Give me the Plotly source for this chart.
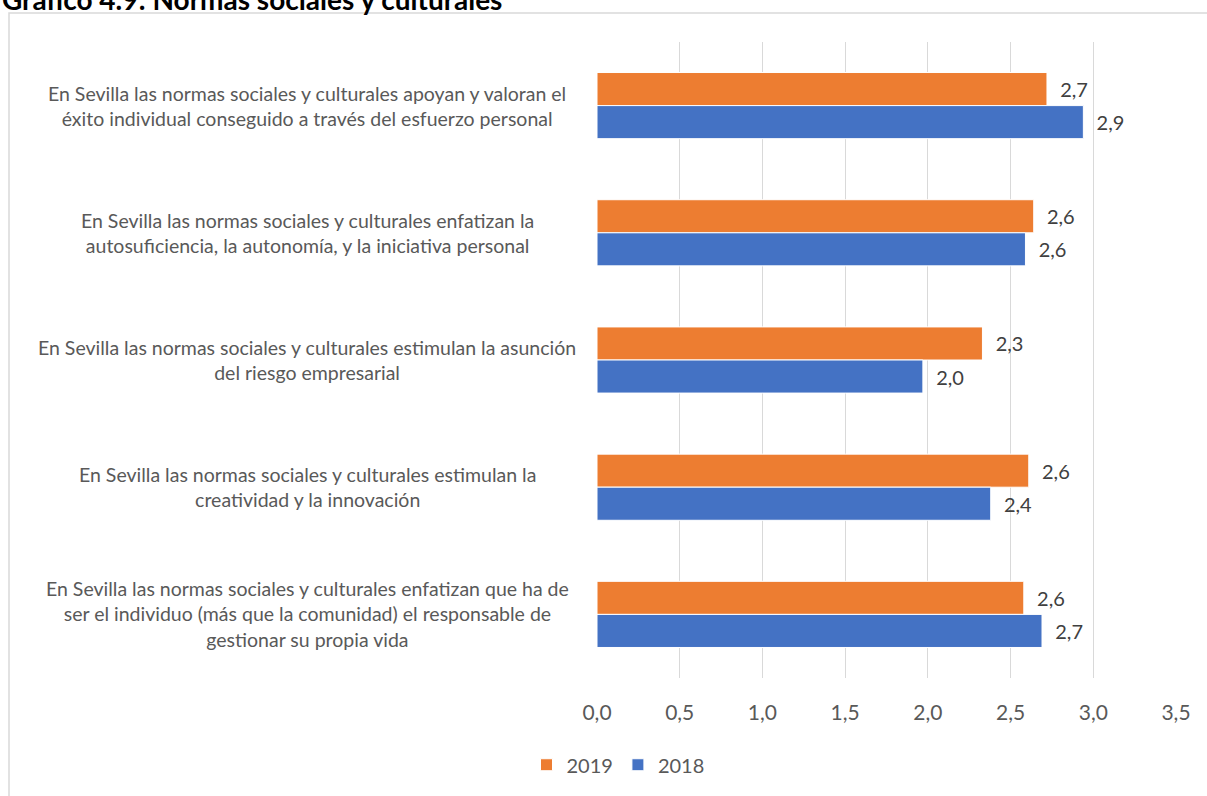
import plotly.graph_objects as go

# Data
categorias = [
    "En Sevilla las normas sociales y culturales apoyan y valoran el<br>éxito individual conseguido a través del esfuerzo personal",
    "En Sevilla las normas sociales y culturales enfatizan la<br>autosuficiencia, la autonomía, y la iniciativa personal",
    "En Sevilla las normas sociales y culturales estimulan la asunción<br>del riesgo empresarial",
    "En Sevilla las normas sociales y culturales estimulan la<br>creatividad y la innovación",
    "En Sevilla las normas sociales y culturales enfatizan que ha de<br>ser el individuo (más que la comunidad) el responsable de<br>gestionar su propia vida",
]
valores_2019 = [2.72, 2.64, 2.33, 2.61, 2.58]
valores_2018 = [2.94, 2.59, 1.97, 2.38, 2.69]
ticks_x = [0, 0.5, 1.0, 1.5, 2.0, 2.5, 3.0, 3.5]

titulo = "Gráfico 4.9: Normas sociales y culturales"

FONT = "Lato"
W, H = 1207, 796
# plot area in pixels
L, R, T, B = 597, 1176, 42, 680


def px_x(px):
    return (px - L) / (R - L)


def px_y(py):
    return (B - py) / (B - T)


fig = go.Figure()

for name, vals, color in [("2019", valores_2019, "#ED7D31"), ("2018", valores_2018, "#4472C4")]:
    fig.add_trace(go.Bar(
        y=categorias,
        x=vals,
        name=name,
        orientation="h",
        marker=dict(color=color, line=dict(color="white", width=1)),
        texttemplate="\u00a0\u00a0%{x:.1f}",
        textposition="outside",
        textfont=dict(family=FONT, size=20, color="#404040"),
        cliponaxis=False,
        hoverinfo="x+name",
    ))

# category labels, centred like the original
for cat in categorias:
    fig.add_annotation(
        x=px_x(307), xref="paper", y=cat, yref="y",
        text=cat, showarrow=False, align="center",
        xanchor="center", yanchor="middle",
        font=dict(family=FONT, size=19.5, color="#595959"),
    )

# title (cut at the top edge in the reference)
fig.add_annotation(
    x=px_x(0), xref="paper", y=px_y(-1), yref="paper",
    text="<b>" + titulo + "</b>", showarrow=False,
    xanchor="left", yanchor="middle",
    font=dict(family=FONT, size=28, color="black"),
)

# chart frame
fig.add_shape(
    type="rect", xref="paper", yref="paper",
    x0=px_x(9), x1=px_x(1230), y0=px_y(820), y1=px_y(13),
    line=dict(color="#D9D9D9", width=1.5), layer="below",
)

fig.update_layout(
    width=W, height=H,
    margin=dict(l=L, r=W - R, t=T, b=H - B),
    paper_bgcolor="white",
    plot_bgcolor="white",
    barmode="group",
    bargap=0.48,
    bargroupgap=0.0,
    separators=",.",
    font=dict(family=FONT, color="#595959"),
    xaxis=dict(
        range=[0, 3.5],
        tickvals=ticks_x,
        tickformat=".1f",
        showgrid=True,
        gridcolor="#D9D9D9",
        gridwidth=1,
        zeroline=False,
        showline=False,
        ticks="",
        ticklabelstandoff=20,
        tickfont=dict(family=FONT, size=21, color="#595959"),
    ),
    yaxis=dict(
        autorange="reversed",
        showticklabels=False,
        showgrid=False,
        zeroline=False,
        ticks="",
    ),
    legend=dict(
        orientation="h",
        x=px_x(618), xanchor="center",
        y=px_y(767), yanchor="middle",
        font=dict(family=FONT, size=20, color="#595959"),
        itemwidth=30,
        traceorder="normal",
    ),
    showlegend=True,
)

fig.write_html("out.html", config={"displayModeBar": False},
               post_script="document.body.style.margin='0';")
